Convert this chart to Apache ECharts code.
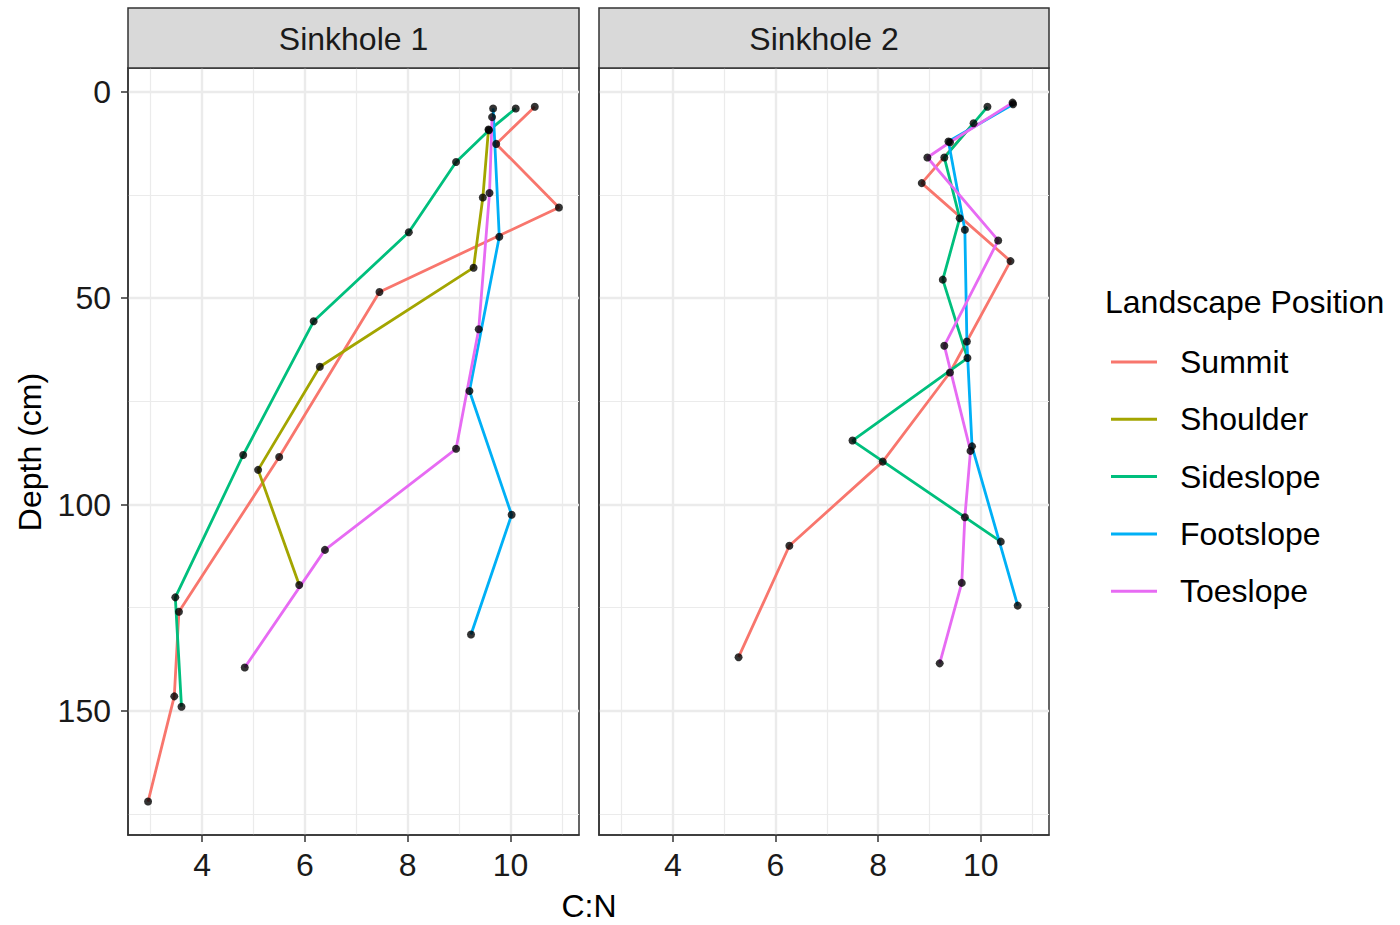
<!DOCTYPE html>
<html>
<head>
<meta charset="utf-8">
<title>C:N by depth</title>
<script src="https://cdn.jsdelivr.net/npm/echarts@6/dist/echarts.min.js"></script>
<style>
  html, body { margin: 0; padding: 0; background: #ffffff; }
  #chart { width: 1400px; height: 925px; }
</style>
</head>
<body>
<div id="chart"></div>
<script>
// Facets and landscape positions
const sinkholes = ['Sinkhole 1', 'Sinkhole 2'];
const positions = ['Summit', 'Shoulder', 'Sideslope', 'Footslope', 'Toeslope'];
const positionColors = ['#F8766D', '#A3A500', '#00BF7D', '#00B0F6', '#E76BF3'];

// Axis ticks
const cnTicks = [4, 6, 8, 10];
const cnMinorTicks = [3, 5, 7, 9, 11];
const depthTicks = [0, 50, 100, 150];
const depthMinorTicks = [25, 75, 125, 175];

// Sinkhole 1 profiles (depth in cm, C:N ratio)
const s1SummitDepth    = [3.6, 12.6, 28.0, 48.5, 88.5, 126.0, 146.5, 172.0];
const s1SummitCN       = [10.47, 9.72, 10.94, 7.45, 5.50, 3.55, 3.46, 2.95];
const s1ShoulderDepth  = [9.1, 25.6, 42.6, 66.6, 91.6, 119.5];
const s1ShoulderCN     = [9.57, 9.46, 9.28, 6.29, 5.09, 5.89];
const s1SideslopeDepth = [4.0, 9.3, 17.0, 34.0, 55.6, 88.0, 122.5, 149.0];
const s1SideslopeCN    = [10.10, 9.58, 8.94, 8.02, 6.17, 4.80, 3.48, 3.60];
const s1FootslopeDepth = [4.0, 35.1, 72.5, 102.5, 131.5];
const s1FootslopeCN    = [9.66, 9.78, 9.20, 10.02, 9.23];
const s1ToeslopeDepth  = [6.1, 24.5, 57.5, 86.5, 111.0, 139.5];
const s1ToeslopeCN     = [9.64, 9.59, 9.38, 8.94, 6.39, 4.83];

// Sinkhole 2 profiles (depth in cm, C:N ratio)
const s2SummitDepth    = [7.6, 22.1, 41.0, 68.0, 89.6, 110.0, 137.0];
const s2SummitCN       = [9.86, 8.85, 10.58, 9.40, 8.09, 6.27, 5.28];
const s2ShoulderDepth  = [];
const s2ShoulderCN     = [];
const s2SideslopeDepth = [3.6, 15.9, 30.6, 45.5, 64.5, 84.5, 109.0];
const s2SideslopeCN    = [10.13, 9.29, 9.59, 9.26, 9.74, 7.50, 10.39];
const s2FootslopeDepth = [3.0, 12.0, 33.4, 60.5, 85.9, 124.5];
const s2FootslopeCN    = [10.63, 9.37, 9.69, 9.73, 9.83, 10.72];
const s2ToeslopeDepth  = [2.6, 12.2, 15.9, 36.0, 61.5, 87.0, 103.1, 119.0, 138.5];
const s2ToeslopeCN     = [10.62, 9.40, 8.96, 10.34, 9.29, 9.80, 9.69, 9.63, 9.20];

const profiles = [
  [[s1SummitCN, s1SummitDepth], [s1ShoulderCN, s1ShoulderDepth], [s1SideslopeCN, s1SideslopeDepth],
   [s1FootslopeCN, s1FootslopeDepth], [s1ToeslopeCN, s1ToeslopeDepth]],
  [[s2SummitCN, s2SummitDepth], [s2ShoulderCN, s2ShoulderDepth], [s2SideslopeCN, s2SideslopeDepth],
   [s2FootslopeCN, s2FootslopeDepth], [s2ToeslopeCN, s2ToeslopeDepth]]
];

const FONT = 'Liberation Sans, Arial, Helvetica, sans-serif';
const TEXT = '#1a1a1a';
const BORDER = '#333333';
const GRID_COLOR = '#EBEBEB';

const cnMin = 2.56, cnMax = 11.33;
const depthMin = -5.8, depthMax = 180.1;

const panelLeft = [128, 599];
const panelWidth = [451, 450];
const panelTop = 68, panelHeight = 767;

const grids = [], xAxes = [], yAxes = [], series = [], graphics = [];

sinkholes.forEach((name, gi) => {
  grids.push({
    left: panelLeft[gi], top: panelTop, width: panelWidth[gi], height: panelHeight,
    show: true, backgroundColor: '#ffffff', borderColor: BORDER, borderWidth: 1.5,
    containLabel: false
  });
  // major axis with ticks and labels
  xAxes.push({
    type: 'value', gridIndex: gi, min: cnMin, max: cnMax, position: 'bottom',
    axisLine: { show: true, onZero: false, lineStyle: { color: BORDER, width: 1.5 } },
    axisTick: { show: true, inside: false, length: 7, lineStyle: { color: BORDER, width: 1.5 }, customValues: cnTicks },
    axisLabel: { customValues: cnTicks, margin: 14, fontSize: 32, color: TEXT, fontFamily: FONT },
    splitLine: { show: true, lineStyle: { color: GRID_COLOR, width: 2.4 } }
  });
  // minor grid lines
  xAxes.push({
    type: 'value', gridIndex: gi, min: cnMin, max: cnMax, position: 'top',
    axisLine: { show: false, onZero: false },
    axisTick: { show: false, customValues: cnMinorTicks },
    axisLabel: { show: false, customValues: cnMinorTicks },
    splitLine: { show: true, lineStyle: { color: GRID_COLOR, width: 1.2 } }
  });
  yAxes.push({
    type: 'value', gridIndex: gi, min: depthMin, max: depthMax, inverse: true, position: 'left',
    axisLine: { show: true, onZero: false, lineStyle: { color: BORDER, width: 1.5 } },
    axisTick: { show: gi === 0, inside: false, length: 7, lineStyle: { color: BORDER, width: 1.5 }, customValues: depthTicks },
    axisLabel: { show: gi === 0, customValues: depthTicks, margin: 17, fontSize: 32, color: TEXT, fontFamily: FONT },
    splitLine: { show: true, lineStyle: { color: GRID_COLOR, width: 2.4 } }
  });
  yAxes.push({
    type: 'value', gridIndex: gi, min: depthMin, max: depthMax, inverse: true, position: 'right',
    axisLine: { show: false, onZero: false },
    axisTick: { show: false, customValues: depthMinorTicks },
    axisLabel: { show: false, customValues: depthMinorTicks },
    splitLine: { show: true, lineStyle: { color: GRID_COLOR, width: 1.2 } }
  });

  // facet strip
  graphics.push({
    type: 'rect', z: 10,
    shape: { x: panelLeft[gi], y: 8, width: panelWidth[gi], height: 60 },
    style: { fill: '#D9D9D9', stroke: BORDER, lineWidth: 1.5 }
  });
  graphics.push({
    type: 'text', z: 11,
    x: panelLeft[gi] + panelWidth[gi] / 2, y: 39,
    style: { text: name, fill: TEXT, font: '32px ' + FONT, textAlign: 'center', textVerticalAlign: 'middle' }
  });

  positions.forEach((pos, pi) => {
    const [cn, depth] = profiles[gi][pi];
    const pts = cn.map((v, k) => [v, depth[k]]);
    series.push({
      name: pos, type: 'line', xAxisIndex: gi * 2, yAxisIndex: gi * 2,
      data: pts, color: positionColors[pi], showSymbol: false, symbol: 'none',
      lineStyle: { width: 2.8, color: positionColors[pi] }, z: 3, animation: false
    });
  });
});

// black sample points drawn above every profile line
sinkholes.forEach((name, gi) => {
  positions.forEach((pos, pi) => {
    const [cn, depth] = profiles[gi][pi];
    series.push({
      name: pos + ' samples', type: 'scatter', xAxisIndex: gi * 2, yAxisIndex: gi * 2,
      data: cn.map((v, k) => [v, depth[k]]), symbolSize: 8,
      itemStyle: { color: '#000000' }, z: 5, animation: false, silent: true
    });
  });
});

// axis titles and legend title
graphics.push({
  type: 'text', x: 589, y: 906,
  style: { text: 'C:N', fill: '#000', font: '32px ' + FONT, textAlign: 'center', textVerticalAlign: 'middle' }
});
graphics.push({
  type: 'text', x: 30, y: 452, rotation: Math.PI / 2,
  style: { text: 'Depth (cm)', fill: '#000', font: '32px ' + FONT, textAlign: 'center', textVerticalAlign: 'middle' }
});
graphics.push({
  type: 'text', x: 1105, y: 302,
  style: { text: 'Landscape Position', fill: '#000', font: '32px ' + FONT, textAlign: 'left', textVerticalAlign: 'middle' }
});

const chart = echarts.init(document.getElementById('chart'), null, { renderer: 'svg', width: 1400, height: 925 });
chart.setOption({
  animation: false,
  backgroundColor: '#ffffff',
  grid: grids,
  xAxis: xAxes,
  yAxis: yAxes,
  legend: {
    data: positions, orient: 'vertical', left: 1111, top: 345, padding: 0,
    icon: 'rect', itemWidth: 46, itemHeight: 3, itemGap: 23.3,
    textStyle: { fontSize: 32, color: '#000', fontFamily: FONT, lineHeight: 34, padding: [0, 0, 0, 18] },
    selectedMode: false
  },
  graphic: graphics,
  series: series
});
</script>
</body>
</html>
